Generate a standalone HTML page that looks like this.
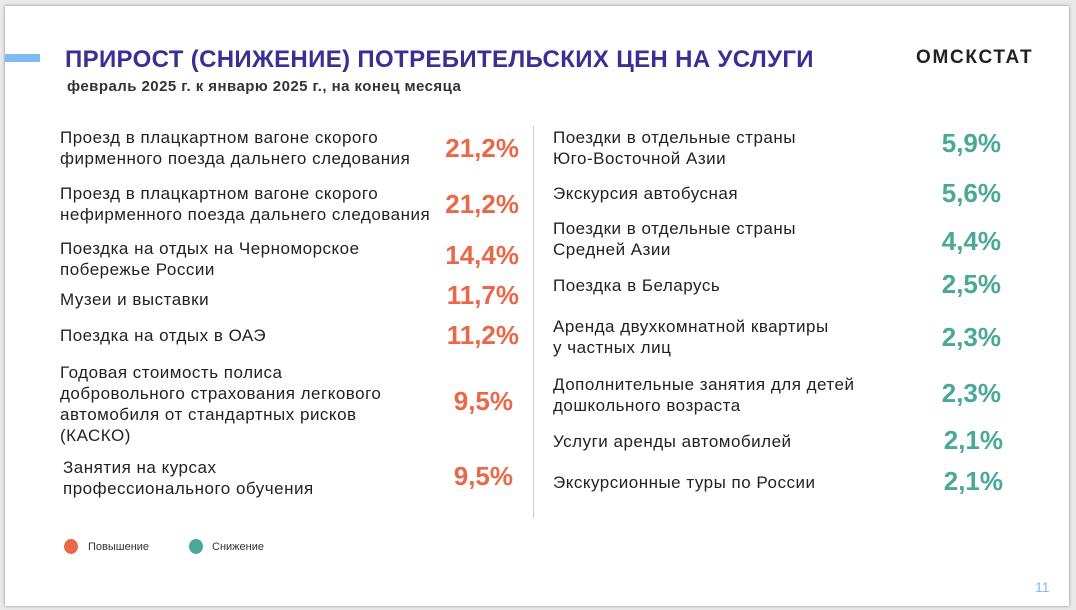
<!DOCTYPE html>
<html><head><meta charset="utf-8"><style>
body{margin:0;width:1076px;height:610px;background:#e9e9e9;position:relative;overflow:hidden;font-family:"Liberation Sans",sans-serif}
#s{position:absolute;left:5px;top:6px;width:1064px;height:600px;background:#fff;box-shadow:0 0 3px #888}
.a{position:absolute;white-space:nowrap}
.l{font-size:17px;letter-spacing:0.5px;line-height:21px;color:#222}
.o{font-size:26px;font-weight:bold;color:#e8684a;text-align:right;width:120px}
.g{font-size:26px;font-weight:bold;color:#4aa996;text-align:right;width:120px}
</style></head><body>
<div id="s"></div>
<div class="a" style="left:5px;top:54px;width:35px;height:8px;background:#7fbaf5"></div>
<div class="a" style="left:65px;top:46px;font-size:24px;letter-spacing:0.35px;font-weight:bold;color:#3a2f94">ПРИРОСТ (СНИЖЕНИЕ) ПОТРЕБИТЕЛЬСКИХ ЦЕН НА УСЛУГИ</div>
<div class="a" style="left:67px;top:78px;font-size:15px;letter-spacing:0.45px;font-weight:bold;color:#333">февраль 2025 г. к январю 2025 г., на конец месяца</div>
<div class="a" style="left:916px;top:47px;font-size:19px;font-weight:bold;color:#222;letter-spacing:1.7px">ОМСКСТАТ</div>

<div class="a l" style="left:60px;top:127px">Проезд в плацкартном вагоне скорого<br>фирменного поезда дальнего следования</div>
<div class="a o" style="left:399px;top:133px">21,2%</div>
<div class="a l" style="left:60px;top:183px">Проезд в плацкартном вагоне скорого<br>нефирменного поезда дальнего следования</div>
<div class="a o" style="left:399px;top:189px">21,2%</div>
<div class="a l" style="left:60px;top:238px">Поездка на отдых на Черноморское<br>побережье России</div>
<div class="a o" style="left:399px;top:240px">14,4%</div>
<div class="a l" style="left:60px;top:289px">Музеи и выставки</div>
<div class="a o" style="left:399px;top:280px">11,7%</div>
<div class="a l" style="left:60px;top:325px">Поездка на отдых в ОАЭ</div>
<div class="a o" style="left:399px;top:320px">11,2%</div>
<div class="a l" style="left:60px;top:362px">Годовая стоимость полиса<br>добровольного страхования легкового<br>автомобиля от стандартных рисков<br>(КАСКО)</div>
<div class="a o" style="left:393px;top:386px">9,5%</div>
<div class="a l" style="left:63px;top:457px">Занятия на курсах<br>профессионального обучения</div>
<div class="a o" style="left:393px;top:461px">9,5%</div>

<div class="a" style="left:533px;top:126px;width:1px;height:392px;background:#ccc"></div>

<div class="a l" style="left:553px;top:127px">Поездки в отдельные страны<br>Юго-Восточной Азии</div>
<div class="a g" style="left:881px;top:128px">5,9%</div>
<div class="a l" style="left:553px;top:183px">Экскурсия автобусная</div>
<div class="a g" style="left:881px;top:178px">5,6%</div>
<div class="a l" style="left:553px;top:218px">Поездки в отдельные страны<br>Средней Азии</div>
<div class="a g" style="left:881px;top:226px">4,4%</div>
<div class="a l" style="left:553px;top:275px">Поездка в Беларусь</div>
<div class="a g" style="left:881px;top:269px">2,5%</div>
<div class="a l" style="left:553px;top:316px">Аренда двухкомнатной квартиры<br>у частных лиц</div>
<div class="a g" style="left:881px;top:322px">2,3%</div>
<div class="a l" style="left:553px;top:374px">Дополнительные занятия для детей<br>дошкольного возраста</div>
<div class="a g" style="left:881px;top:378px">2,3%</div>
<div class="a l" style="left:553px;top:431px">Услуги аренды автомобилей</div>
<div class="a g" style="left:883px;top:425px">2,1%</div>
<div class="a l" style="left:553px;top:472px">Экскурсионные туры по России</div>
<div class="a g" style="left:883px;top:466px">2,1%</div>

<div class="a" style="left:64px;top:539px;width:14px;height:15px;border-radius:50%;background:#e8684a"></div>
<div class="a" style="left:88px;top:541px;font-size:11px;color:#333">Повышение</div>
<div class="a" style="left:189px;top:539px;width:14px;height:15px;border-radius:50%;background:#4aa996"></div>
<div class="a" style="left:212px;top:541px;font-size:11px;color:#333">Снижение</div>
<div class="a" style="left:1035px;top:579px;font-size:14px;color:#7fbaf5">11</div>
</body></html>
